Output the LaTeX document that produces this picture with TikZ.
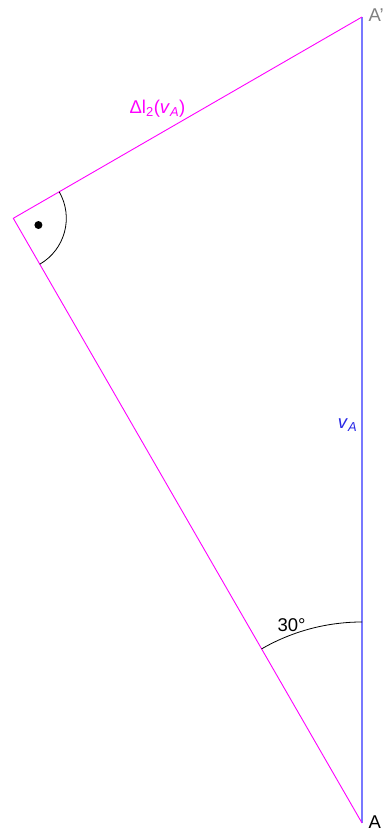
\documentclass[tikz,border=0pt]{standalone}
\usepackage{fontspec}
\setmainfont{Liberation Sans}
\definecolor{mag}{RGB}{255,0,255}
\definecolor{vline}{RGB}{120,120,255}
\definecolor{vtext}{RGB}{40,40,230}
\definecolor{gtext}{RGB}{128,128,128}
\begin{document}
\begin{tikzpicture}[x=1pt,y=1pt,
  magline/.style={draw=mag,line width=0.9pt},
  blueline/.style={draw=vline,line width=1.2pt},
  anglearc/.style={draw=black,line width=0.8pt},
  lbl/.style={inner sep=0pt,font=\fontsize{18.5}{22}\selectfont}]
\useasboundingbox (0,0) rectangle (383,830);
\coordinate (A) at (362,7);
\coordinate (Ap) at (362,813);
\coordinate (L) at (13.3,611.7);
\draw[blueline] (A) -- (Ap);
\draw[magline] (A) -- (L) -- (Ap);
\draw[anglearc] (A) ++(90:201pt) arc[start angle=90, end angle=120, radius=201pt];
\draw[anglearc] (L) ++(-60:53pt) arc[start angle=-60, end angle=30, radius=53pt];
\fill (L) ++(-15:26pt) circle (4pt);
\node[lbl,text=mag] (dl) at (157.5,721) {Δl\textsubscript{2}(\textit{v}\textsubscript{\textit{A}})};
\node[lbl,text=vtext] (va) at (347.5,405) {\textit{v}\textsubscript{\textit{A}}};
\node[lbl] (ang) at (291.5,205) {30°};
\node[lbl,text=gtext,anchor=base west] (lap) at (368.5,808) {A'};
\node[lbl,anchor=base west] (la) at (368.5,1.5) {A};
\end{tikzpicture}
\end{document}
